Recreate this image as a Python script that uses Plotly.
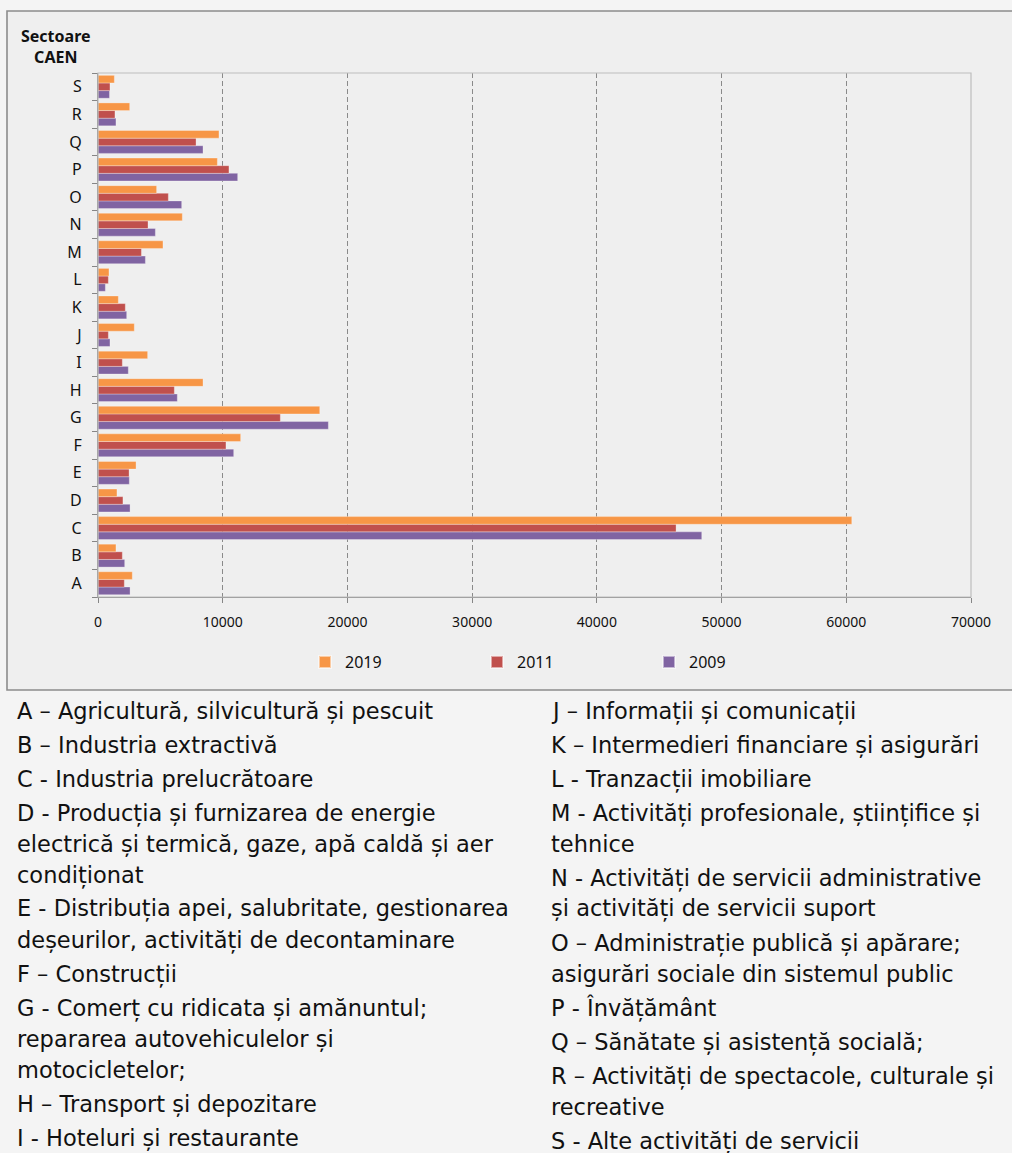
import plotly.graph_objects as go

# CAEN sectors (bottom to top on the category axis)
sectors = ["A", "B", "C", "D", "E", "F", "G", "H", "I", "J",
           "K", "L", "M", "N", "O", "P", "Q", "R", "S"]

values_2019 = [2750, 1440, 60440, 1520, 3050, 11440, 17780, 8420, 3980, 2910,
               1630, 880, 5210, 6760, 4700, 9570, 9700, 2540, 1310]
values_2011 = [2110, 1950, 46350, 2000, 2490, 10260, 14620, 6120, 1950, 830,
               2190, 830, 3480, 4010, 5640, 10500, 7860, 1360, 960]
values_2009 = [2570, 2140, 48410, 2570, 2510, 10880, 18470, 6360, 2430, 960,
               2300, 590, 3800, 4600, 6710, 11200, 8420, 1440, 920]

x_ticks = [0, 10000, 20000, 30000, 40000, 50000, 60000, 70000]

# Sector descriptions, two columns; each entry may wrap onto several lines
legend_left = [
    ["A – Agricultură, silvicultură și pescuit"],
    ["B – Industria extractivă"],
    ["C - Industria prelucrătoare"],
    ["D - Producția și furnizarea de energie",
     "electrică și termică, gaze, apă caldă și aer",
     "condiționat"],
    ["E - Distribuția apei, salubritate, gestionarea",
     "deșeurilor, activități de decontaminare"],
    ["F – Construcții"],
    ["G - Comerț cu ridicata și amănuntul;",
     "repararea autovehiculelor și",
     "motocicletelor;"],
    ["H – Transport și depozitare"],
    ["I - Hoteluri și restaurante"],
]
legend_right = [
    ["J – Informații și comunicații"],
    ["K – Intermedieri financiare și asigurări"],
    ["L - Tranzacții imobiliare"],
    ["M - Activități profesionale, științifice și",
     "tehnice"],
    ["N - Activități de servicii administrative",
     "și activități de servicii suport"],
    ["O – Administrație publică și apărare;",
     "asigurări sociale din sistemul public"],
    ["P - Învățământ"],
    ["Q – Sănătate și asistență socială;"],
    ["R – Activități de spectacole, culturale și",
     "recreative"],
    ["S - Alte activități de servicii"],
]

W, H = 1012, 1153
PL, PR, PT, PB = 98, 971, 73, 597  # plot area in pixels


def px(x):
    return (x - PL) / (PR - PL)


def py(y):
    return (PB - y) / (PB - PT)


TEXT_FONT = "Noto Sans"
NOTE_FONT = "DejaVu Sans"
fig = go.Figure()

series = [("2009", values_2009, "#8064A2"),
          ("2011", values_2011, "#C0504D"),
          ("2019", values_2019, "#F79646")]
for name, vals, color in series:
    fig.add_trace(go.Bar(
        y=sectors, x=vals, name=name, orientation="h",
        marker=dict(color=color, line=dict(color="rgba(255,255,255,0.5)", width=0.6)),
    ))

annotations = [dict(
    text="<b>Sectoare</b><br><b>CAEN</b>", x=px(56), y=py(47),
    xref="paper", yref="paper", xanchor="center", yanchor="middle",
    showarrow=False, align="center",
    font=dict(family=TEXT_FONT, size=16, color="#111111"),
)]


def add_column(entries, x_left, y_first):
    y = y_first
    for i, entry in enumerate(entries):
        if i > 0:
            y += 34
        for j, line in enumerate(entry):
            if j > 0:
                y += 31
            annotations.append(dict(
                text=line, x=px(x_left), y=py(y),
                xref="paper", yref="paper", xanchor="left", yanchor="middle",
                showarrow=False,
                font=dict(family=NOTE_FONT, size=22.5, color="#111111"),
            ))


add_column(legend_left, 15, 711)
add_column(legend_right, 549, 711)

shapes = [
    # outer chart frame
    dict(type="rect", xref="paper", yref="paper",
         x0=px(7), x1=px(1030), y0=py(690), y1=py(11),
         line=dict(color="#8C8C8C", width=1.6), fillcolor="#EFEFEF", layer="below"),
    # plot area border
    dict(type="rect", xref="paper", yref="paper",
         x0=0, x1=1, y0=0, y1=1,
         line=dict(color="#BDBDBD", width=1.2), layer="above"),
]

fig.update_layout(
    width=W, height=H,
    margin=dict(l=PL, r=W - PR, t=PT, b=H - PB, pad=0),
    paper_bgcolor="#F4F4F4",
    plot_bgcolor="#FDFDFD",
    barmode="group",
    bargap=0.17,
    bargroupgap=0,
    font=dict(family=TEXT_FONT, color="#111111"),
    showlegend=True,
    legend=dict(
        orientation="h", traceorder="reversed",
        x=px(305), y=py(662), xanchor="left", yanchor="middle",
        entrywidth=127, entrywidthmode="pixels",
        font=dict(family=TEXT_FONT, size=16, color="#111111"),
        bgcolor="rgba(0,0,0,0)", itemsizing="constant",
    ),
    annotations=annotations,
    shapes=shapes,
)

fig.update_xaxes(
    range=[0, 70000], tickvals=x_ticks, ticktext=[str(v) for v in x_ticks],
    showgrid=True, gridcolor="#8A8A8A", griddash="5px,3px", gridwidth=1,
    zeroline=False, showline=True, linecolor="#868686", linewidth=1.2,
    ticks="outside", ticklen=5, tickcolor="#868686",
    ticklabelstandoff=7,
    tickfont=dict(family=TEXT_FONT, size=14, color="#111111"),
    fixedrange=True,
)
fig.update_yaxes(
    categoryorder="array", categoryarray=sectors,
    showgrid=False, zeroline=False, showline=True, linecolor="#868686", linewidth=1.2,
    ticks="outside", ticklen=5, tickcolor="#868686", tickson="boundaries",
    ticklabelstandoff=12,
    tickfont=dict(family=TEXT_FONT, size=16, color="#111111"),
    fixedrange=True,
)

fig.write_html("out.html")
